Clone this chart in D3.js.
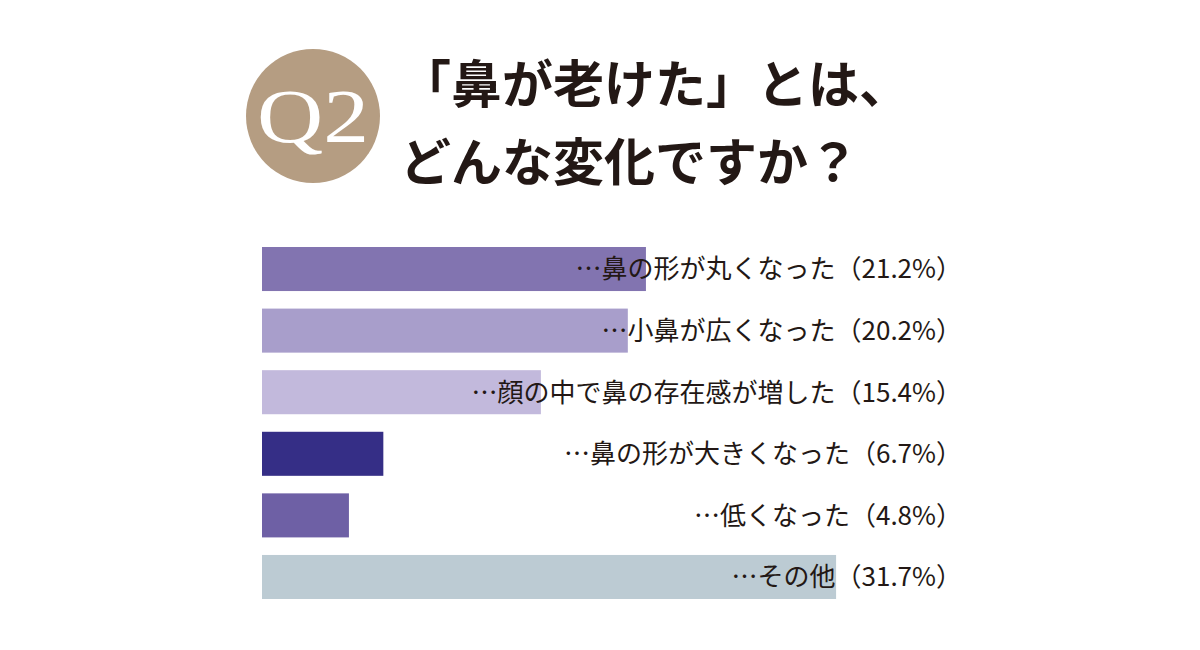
<!DOCTYPE html>
<html><head><meta charset="utf-8">
<script src="https://cdn.jsdelivr.net/npm/d3@7"></script>
<style>body{margin:0;background:#fff}</style></head>
<body><svg id="c" width="1200" height="650"></svg>
<script>
const categories = ["鼻の形が丸くなった","小鼻が広くなった","顔の中で鼻の存在感が増した","鼻の形が大きくなった","低くなった","その他"];
const values = [21.2,20.2,15.4,6.7,4.8,31.7];
const colors = ["#8274b0","#a89ecb","#c2b9dc","#352e86","#6e60a5","#bccbd3"];
const titleLines = ["「鼻が老けた」とは、","どんな変化ですか？"];

const svg = d3.select("#c");
const font = "'Noto Sans CJK JP', sans-serif";
const x = d3.scaleLinear().domain([0,100]).range([262,262+1811]);
const y = d3.scaleBand().domain(categories).range([247,599]).paddingInner(0.285).paddingOuter(0);

svg.selectAll("rect.bar").data(categories).join("rect")
  .attr("x",x(0)).attr("y",d=>y(d)).attr("height",y.bandwidth())
  .attr("width",(d,i)=>x(values[i])-x(0)).attr("fill",(d,i)=>colors[i]);

svg.selectAll("text.lab").data(categories).join("text")
  .attr("x",962).attr("y",d=>y(d)+y.bandwidth()/2).attr("dy","0.36em")
  .attr("text-anchor","end").attr("font-family",font).attr("font-size",26)
  .attr("fill","#231815")
  .text((d,i)=>"…"+d+"（"+values[i].toFixed(1)+"%）");

svg.append("circle").attr("cx",313).attr("cy",116).attr("r",67).attr("fill","#b59d82");
svg.append("text").attr("x",313).attr("y",142).attr("text-anchor","middle")
  .attr("font-family","'Liberation Serif', serif").attr("font-size",76).attr("fill","#fff")
  .attr("textLength",112).attr("lengthAdjust","spacingAndGlyphs").text("Q2");

svg.selectAll("text.t").data(titleLines).join("text")
  .attr("x",400).attr("y",(d,i)=>103+i*78)
  .attr("font-family",font).attr("font-weight","bold").attr("font-size",51)
  .attr("fill","#231815").text(d=>d);
</script></body></html>
